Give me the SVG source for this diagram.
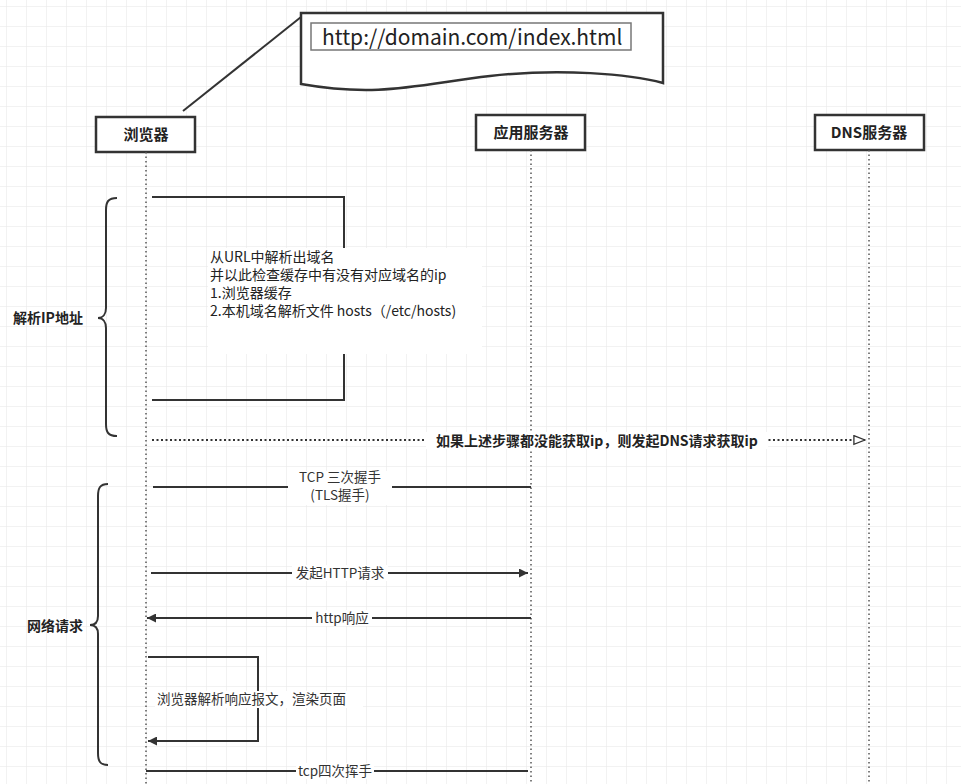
<svg xmlns="http://www.w3.org/2000/svg" width="961" height="784" viewBox="0 0 961 784">
<style>
.box{fill:#fff;stroke:#333;stroke-width:2.5}
.t{font-family:"Microsoft YaHei","Noto Sans CJK SC",sans-serif;fill:#222}
.b{font-weight:bold;font-size:15px}
.life{stroke:#555;stroke-width:1.5;stroke-dasharray:1.5 3;fill:none}
.ln{stroke:#333;stroke-width:2;fill:none}
.lbl{font-family:"Noto Sans CJK SC",sans-serif;font-size:13.5px;fill:#333}
</style>
<defs>
<pattern id="g" width="20" height="20" patternUnits="userSpaceOnUse" x="6" y="6">
<path d="M20 0H0V20" fill="none" stroke="#e6e6e6" stroke-width="1"/>
</pattern>
<marker id="fa" viewBox="0 0 10 10" refX="10" refY="5" markerWidth="9" markerHeight="9" orient="auto" markerUnits="userSpaceOnUse"><path d="M0 0L10 5L0 10Z" fill="#333"/></marker>
<marker id="oa" viewBox="0 0 12 10" refX="12" refY="5" markerWidth="14" markerHeight="11" orient="auto" markerUnits="userSpaceOnUse"><path d="M1 1L11 5L1 9Z" fill="#fff" stroke="#333" stroke-width="1.2"/></marker>
</defs>
<rect width="961" height="784" fill="#fff"/>
<rect width="961" height="784" fill="url(#g)"/>
<g id="note">
<line x1="183" y1="111" x2="301" y2="17" stroke="#333" stroke-width="2"/>
<path d="M301 13H663V83C630 74 560 68 490 76C420 84 380 98 301 84Z" class="box"/>
<rect x="311" y="23" width="320" height="27" fill="#fff" stroke="#777" stroke-width="1.5"/>
<text x="322" y="45" class="t" font-size="21" font-family="Liberation Sans, sans-serif">http://domain.com/index.html</text>
</g>
<g id="browser"><rect x="96" y="117" width="99" height="35" class="box"/><text x="146" y="140" class="t b" text-anchor="middle">浏览器</text></g>
<g id="app"><rect x="476" y="115" width="109" height="35" class="box"/><text x="531" y="138" class="t b" text-anchor="middle">应用服务器</text></g>
<g id="dns"><rect x="815" y="115" width="109" height="35" class="box"/><text x="869" y="138" class="t b" text-anchor="middle">DNS服务器</text></g>
<g id="connectors">
<line x1="146" y1="152" x2="146" y2="784" class="life"/>
<line x1="531" y1="150" x2="531" y2="784" class="life"/>
<line x1="869" y1="150" x2="869" y2="784" class="life"/>
<path d="M152 197H344V400H152" class="ln"/>
<rect x="208" y="248" width="274" height="106" fill="#fff"/>
<text class="t" font-size="14"><tspan x="210" y="262">从URL中解析出域名</tspan><tspan x="210" y="280">并以此检查缓存中有没有对应域名的ip</tspan><tspan x="210" y="298">1.浏览器缓存</tspan><tspan x="210" y="316">2.本机域名解析文件 hosts（/etc/hosts)</tspan></text>
<path d="M117 198C108 198 106 202 106 210V308C106 314 103 318 98 318C103 318 106 322 106 328V424C106 432 108 436 117 436" class="ln"/>
<text x="13" y="323" class="t" font-size="14" font-weight="bold">解析IP地址</text>
<line x1="152" y1="440" x2="866" y2="440" stroke="#333" stroke-width="2" stroke-dasharray="2 2.5" marker-end="url(#oa)"/>
<rect x="426" y="432" width="342" height="17" fill="#fff"/>
<text x="597" y="446" class="t" font-size="14" font-weight="bold" text-anchor="middle">如果上述步骤都没能获取ip，则发起DNS请求获取ip</text>
<line x1="153" y1="487" x2="531" y2="487" class="ln"/>
<rect x="288" y="471" width="104" height="34" fill="#fff"/>
<text x="340" y="482" class="lbl" text-anchor="middle">TCP 三次握手</text>
<text x="340" y="500" class="lbl" text-anchor="middle">(TLS握手)</text>
<line x1="151" y1="573" x2="528" y2="573" class="ln" marker-end="url(#fa)"/>
<rect x="292" y="565" width="96" height="16" fill="#fff"/>
<text x="340" y="578" class="lbl" text-anchor="middle">发起HTTP请求</text>
<line x1="531" y1="618" x2="147" y2="618" class="ln" marker-end="url(#fa)"/>
<rect x="312" y="610" width="60" height="16" fill="#fff"/>
<text x="342" y="623" class="lbl" text-anchor="middle">http响应</text>
<path d="M148 657H258V741H148" class="ln" marker-end="url(#fa)"/>
<rect x="155" y="691" width="208" height="17" fill="#fff"/>
<text x="157" y="704" class="lbl">浏览器解析响应报文，渲染页面</text>
<path d="M108 484C100 484 98 488 98 496V616C98 622 95 625 90 625C95 625 98 628 98 634V753C98 761 100 765 108 765" class="ln"/>
<text x="27" y="631" class="t" font-size="14" font-weight="bold">网络请求</text>
<line x1="146" y1="771" x2="528" y2="771" class="ln"/>
<rect x="296" y="763" width="78" height="16" fill="#fff"/>
<text x="335" y="776" class="lbl" text-anchor="middle">tcp四次挥手</text>
</g>
</svg>
